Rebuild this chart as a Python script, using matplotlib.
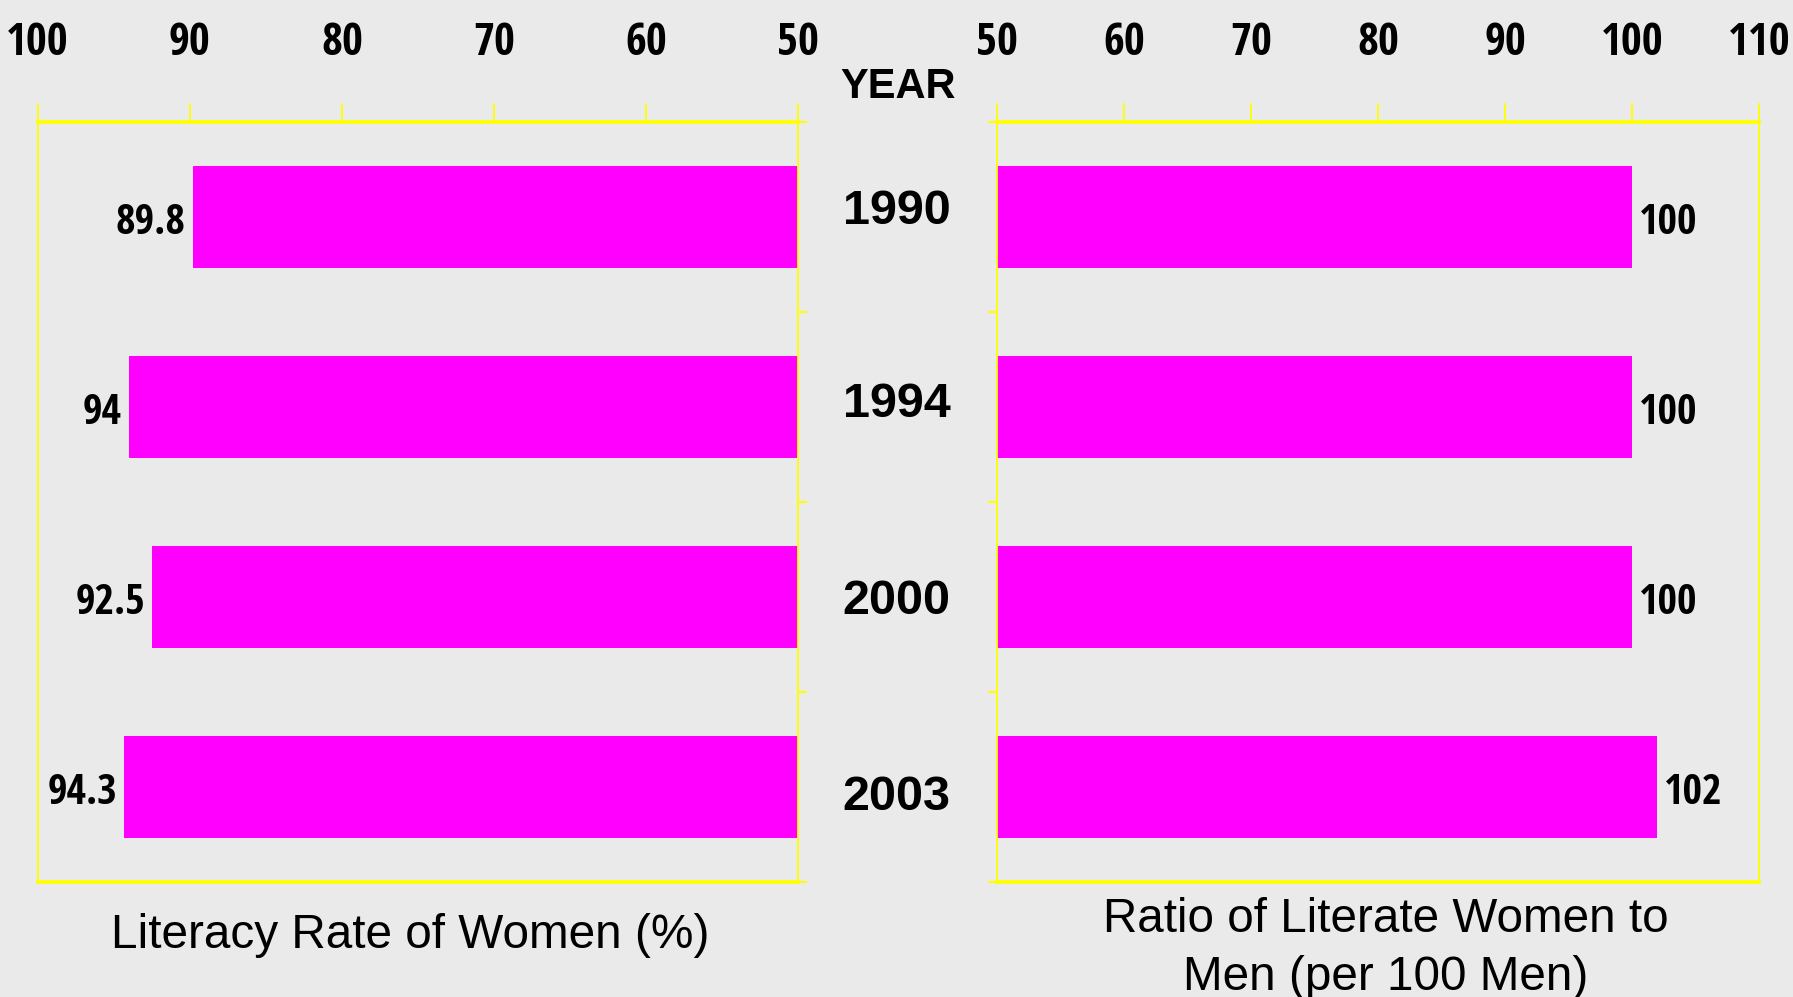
import matplotlib
matplotlib.use('Agg')
import matplotlib.pyplot as plt
from matplotlib.ticker import FixedLocator
from matplotlib import font_manager as fm
from matplotlib.textpath import TextPath

# ---- data ----
years = ['1990', '1994', '2000', '2003']
literacy_rate = [89.8, 94, 92.5, 94.3]
ratio_women_men = [100, 100, 100, 102]
left_ticks = [100, 90, 80, 70, 60, 50]
right_ticks = [50, 60, 70, 80, 90, 100, 110]
left_title = 'Literacy Rate of Women (%)'
right_title_lines = ['Ratio of Literate Women to', 'Men (per 100 Men)']
center_title = 'YEAR'

# ---- style ----
BG = '#EAEAEA'
YEL = '#FFFF00'
MAG = '#FF00FF'
REG = ['Liberation Sans', 'DejaVu Sans']
BASE = 50
DPI = 100

SANS_BASES = ('Liberation Sans', 'Arial', 'DejaVu Sans', 'Noto Sans', 'Roboto',
              'Open Sans', 'Lato', 'Inter', 'Ubuntu', 'Fira Sans', 'Source Sans')
OK_WORDS = {'condensed', 'narrow', 'extracondensed', 'semicondensed', 'extra',
            'semi', 'ultra', 'ultracondensed', 'bold', 'black', 'semibold',
            'extrabold', 'medium', 'cond', 'compressed'}


def _is_bold(f):
    w = f.weight
    if isinstance(w, str):
        return w in ('bold', 'heavy', 'black', 'extra bold', 'semibold', 'demibold')
    return w >= 600


def _plain_sans(name):
    for b in SANS_BASES:
        if name == b:
            return True
        if name.startswith(b + ' '):
            rest = name[len(b) + 1:].lower().replace('-', ' ').split()
            if rest and all(w in OK_WORDS for w in rest):
                return True
    return False


def _is_narrow(f):
    nm = (f.name + ' ' + f.fname).lower()
    st = f.stretch
    if any(k in nm for k in ('narrow', 'condensed', 'compressed')):
        return True
    if isinstance(st, str) and 'condensed' in st:
        return True
    if isinstance(st, (int, float)) and st < 500:
        return True
    return False


def _ink(fp, text):
    ext = TextPath((0, 0), text, size=100, prop=fp).get_extents()
    return ext.width, ext.height


def _ratio(fname):
    try:
        w, h = _ink(fm.FontProperties(fname=fname), '100')
        return w / h if h > 0 else 1e9
    except Exception:
        return 1e9


cands = [f for f in fm.fontManager.ttflist
         if _plain_sans(f.name) and _is_narrow(f) and _is_bold(f)
         and f.style == 'normal' and f.fname.lower().endswith(('.ttf', '.otf'))]
if cands:
    best = min(cands, key=lambda f: _ratio(f.fname))
    NUM_FP = dict(fname=best.fname)
else:
    NUM_FP = dict(family=['Liberation Sans', 'DejaVu Sans'], weight='bold')


def num_fp(size):
    return fm.FontProperties(size=size, **NUM_FP)


def fit_size(text, max_h_px, max_w_px):
    # ink size (in points) of text at size 100
    w, h = _ink(num_fp(100), text)
    px_per_pt = DPI / 72
    s_h = max_h_px / (h / 100 * px_per_pt)
    s_w = max_w_px / (w / 100 * px_per_pt)
    return min(s_h, s_w)


TICK_SIZE = fit_size('100', 38, 59)
LAB_SIZE = fit_size('89.8', 34, 67)

fig = plt.figure(figsize=(17.93, 9.97), dpi=DPI, facecolor=BG)
axL = fig.add_axes([0.021, 0.1153, 0.4242, 0.7623])
axR = fig.add_axes([0.5561, 0.1153, 0.4249, 0.7623])

ypos = list(range(len(years)))


def style(ax, ticks, xlim, side):
    ax.set_facecolor(BG)
    ax.set_xlim(*xlim)
    ax.set_ylim(len(years) - 0.5, -0.5)
    ax.xaxis.set_ticks_position('top')
    ax.xaxis.set_major_locator(FixedLocator(ticks))
    ax.set_xticklabels([])
    ax.tick_params(axis='x', which='major', direction='out', length=14, width=1.3,
                   color=YEL)
    ax.set_yticks([])
    ax.yaxis.set_minor_locator(FixedLocator([i - 0.5 for i in range(len(years) + 1)]))
    ax.yaxis.set_ticks_position(side)
    ax.tick_params(axis='y', which='minor', direction='out', length=6.5, width=1.5,
                   color=YEL)
    for s in ['top', 'bottom']:
        ax.spines[s].set_color(YEL)
        ax.spines[s].set_linewidth(2.7)
    for s in ['left', 'right']:
        ax.spines[s].set_color(YEL)
        ax.spines[s].set_linewidth(1.3)
    # tick labels: baseline placed ~67 px above the top spine
    for t in ticks:
        ax.annotate(str(t), xy=(t, 1), xycoords=('data', 'axes fraction'),
                    xytext=(0, 48), textcoords='offset points', ha='center',
                    va='baseline', fontproperties=num_fp(TICK_SIZE), color='black',
                    annotation_clip=False)


style(axL, left_ticks, (100, 50), 'right')
style(axR, right_ticks, (50, 110), 'left')

axL.barh(ypos, [v - BASE for v in literacy_rate], left=BASE, height=0.54, color=MAG)
axR.barh(ypos, [v - BASE for v in ratio_women_men], left=BASE, height=0.54, color=MAG)

for yi, v in zip(ypos, literacy_rate):
    axL.annotate(f'{v:g}', xy=(v, yi), xytext=(-5, -12), textcoords='offset points',
                 ha='right', va='baseline', fontproperties=num_fp(LAB_SIZE),
                 color='black')
for yi, v in zip(ypos, ratio_women_men):
    axR.annotate(f'{v:g}', xy=(v, yi), xytext=(5, -12), textcoords='offset points',
                 ha='left', va='baseline', fontproperties=num_fp(LAB_SIZE),
                 color='black')

# year labels in the centre column (baselines)
year_y = [0.7753, 0.5813, 0.3841, 0.1880]
for yr, yy in zip(years, year_y):
    fig.text(0.5, yy, yr, ha='center', va='baseline', fontsize=35,
             fontweight='bold', family=REG, color='black')
fig.text(0.5008, 0.9014, center_title, ha='center', va='baseline', fontsize=30,
         fontweight='bold', family=REG, color='black')

fig.text(0.2287, 0.0495, left_title, ha='center', va='baseline', fontsize=34.4,
         family=REG, color='black')
for line, yy in zip(right_title_lines, [0.0655, 0.0070]):
    fig.text(0.773, yy, line, ha='center', va='baseline', fontsize=34.3,
             family=REG, color='black')

fig.savefig('out.png', dpi=DPI, facecolor=BG)
